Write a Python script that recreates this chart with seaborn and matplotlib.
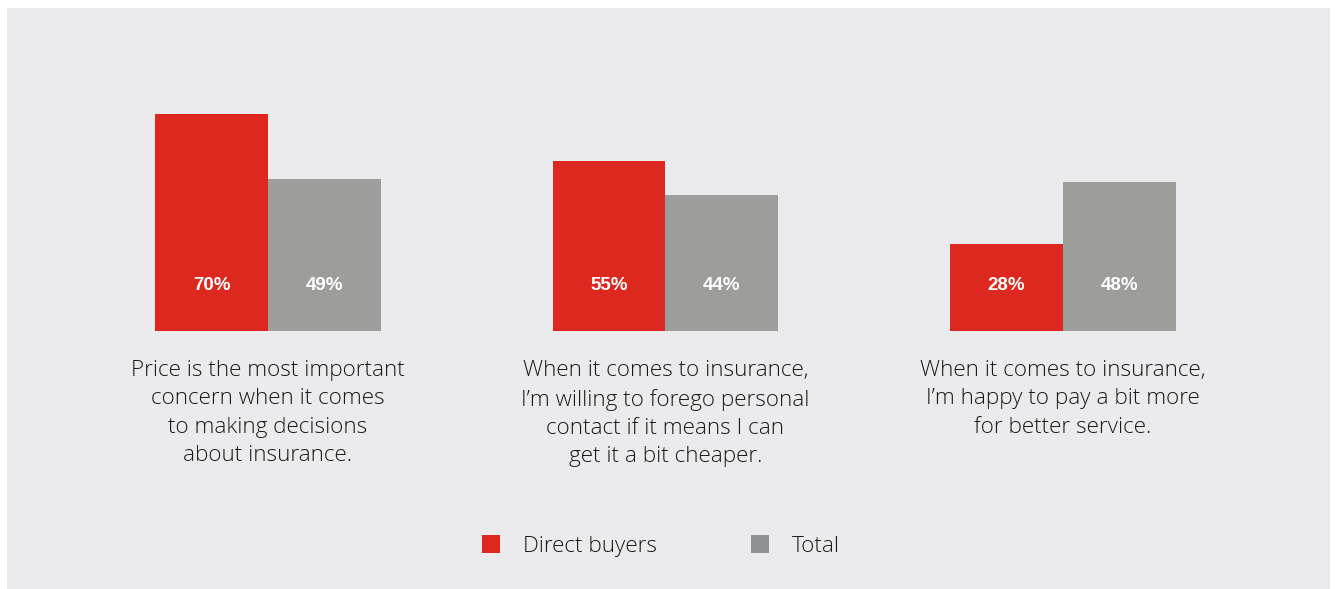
import matplotlib
matplotlib.use("Agg")
import matplotlib.pyplot as plt
from matplotlib.patches import Patch
import seaborn as sns
import pandas as pd

# Survey statements and shares (%) agreeing
statements = [
    "Price is the most important\nconcern when it comes\nto making decisions\nabout insurance.",
    "When it comes to insurance,\nI\u2019m willing to forego personal\ncontact if it means I can\nget it a bit cheaper.",
    "When it comes to insurance,\nI\u2019m happy to pay a bit more\nfor better service.",
]
groups = ["Direct buyers", "Total"]
direct_buyers = [70, 55, 28]
total = [49, 44, 48]

RED = "#DC281E"
GREY = "#9D9D9B"
GREY_KEY = "#8F9194"
PANEL = "#EBEBED"
TEXT = "#1A1A1A"

df = pd.DataFrame({
    "statement": statements * 2,
    "group": [groups[0]] * 3 + [groups[1]] * 3,
    "value": direct_buyers + total,
})

sns.set_theme(style="white")
plt.rcParams["font.family"] = ["Open Sans", "DejaVu Sans"]

W, H = 1337, 589
fig = plt.figure(figsize=(W / 100, H / 100), dpi=100, facecolor="white")
ax = fig.add_axes([7 / W, 0, (1330 - 7) / W, (589 - 8) / H])
ax.set_facecolor(PANEL)

sns.barplot(data=df, x="statement", y="value", hue="group",
            palette=[RED, GREY], width=0.5685, saturation=1,
            dodge=True, ax=ax, legend=False, linewidth=0)

ax.set_xlim(-0.6566, 2.6717)
ax.set_ylim(-83.2, 104.2)
ax.set_xticks([])
ax.set_yticks([])
ax.set_xlabel("")
ax.set_ylabel("")
for s in ax.spines.values():
    s.set_visible(False)

# Value labels near the bottom of each bar
for container, vals in zip(ax.containers, [direct_buyers, total]):
    for patch, v in zip(container.patches, vals):
        ax.text(patch.get_x() + patch.get_width() / 2, 14.6, f"{v}%",
                ha="center", va="center", color="white", fontsize=13.5,
                fontweight="bold", family=["Liberation Sans", "DejaVu Sans"])

# Statement captions under each pair of bars
for i, s in enumerate(statements):
    ax.text(i, -9.4, s, ha="center", va="top", fontsize=16.2,
            fontweight="light", color=TEXT, linespacing=1.45)

handles = [Patch(facecolor=RED, edgecolor="none", label=groups[0]),
           Patch(facecolor=GREY_KEY, edgecolor="none", label=groups[1])]
leg = fig.legend(handles=handles, loc="center",
                 bbox_to_anchor=(661 / W, 1 - 546 / H),
                 ncol=2, frameon=False, handlelength=0.8,
                 handleheight=0.8, handletextpad=1.03, columnspacing=4.15,
                 labelcolor=TEXT, prop={"weight": "light", "size": 16.2})

fig.savefig("out.png", dpi=100, facecolor="white")
